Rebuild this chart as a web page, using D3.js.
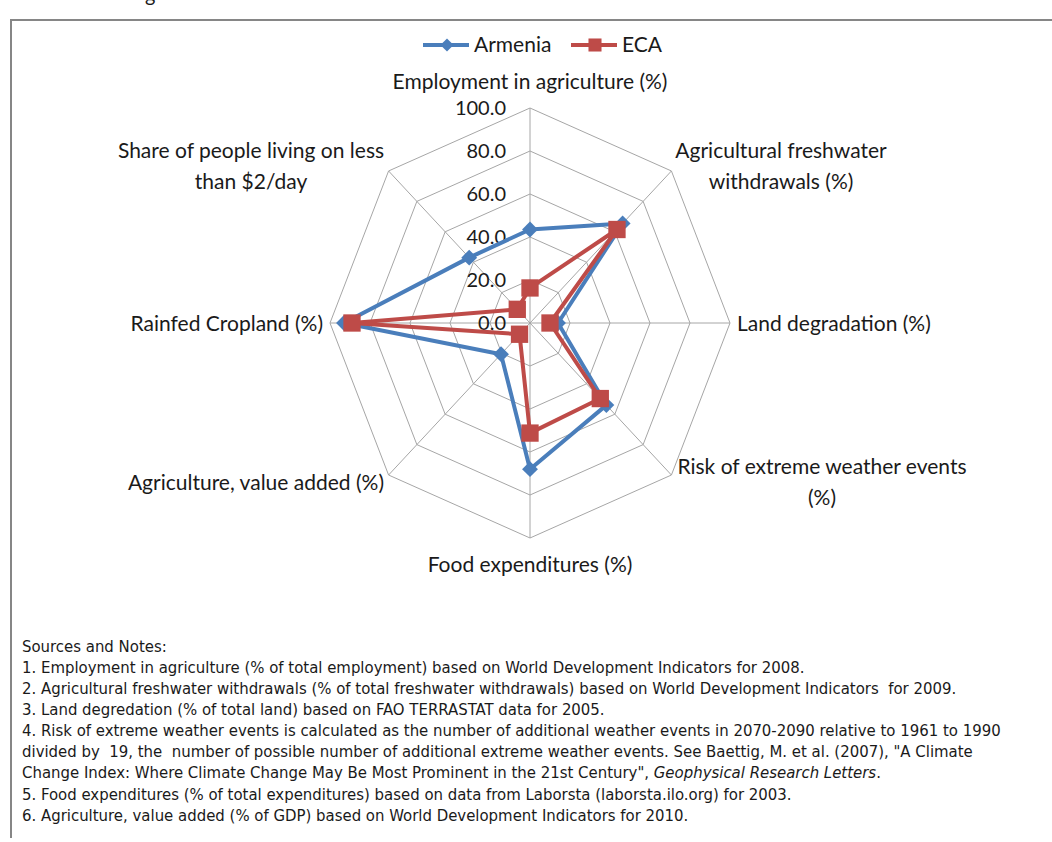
<!DOCTYPE html>
<html>
<head>
<meta charset="utf-8">
<script src="https://cdn.jsdelivr.net/npm/d3@7"></script>
<style>
  body { margin: 0; background: #fff; }
  svg text { font-family: Lato, "Open Sans", sans-serif; fill: #1a1a1a; }
  .notes text { font-family: "DejaVu Sans Condensed", "Liberation Sans Narrow", sans-serif; white-space: pre; }
</style>
</head>
<body>
<div id="chart"></div>
<script>
// categories, clockwise from the top
const axisLabels = [
  ["Employment in agriculture (%)"],
  ["Agricultural freshwater", "withdrawals (%)"],
  ["Land degradation (%)"],
  ["Risk of extreme weather events", "(%)"],
  ["Food expenditures (%)"],
  ["Agriculture, value added (%)"],
  ["Rainfed Cropland (%)"],
  ["Share of people living on less", "than $2/day"]
];
const armenia = [43.5, 65.5, 14, 54, 68, 20.5, 93, 43];
const eca = [16.3, 61.5, 10, 49.7, 51.2, 7.4, 89, 9];
const seriesNames = ["Armenia", "ECA"];
const tickValues = [0, 20, 40, 60, 80, 100];
const notes = [
  "Sources and Notes:",
  "1. Employment in agriculture (% of total employment) based on World Development Indicators for 2008.",
  "2. Agricultural freshwater withdrawals (% of total freshwater withdrawals) based on World Development Indicators  for 2009.",
  "3. Land degredation (% of total land) based on FAO TERRASTAT data for 2005.",
  "4. Risk of extreme weather events is calculated as the number of additional weather events in 2070-2090 relative to 1961 to 1990",
  "divided by  19, the  number of possible number of additional extreme weather events. See Baettig, M. et al. (2007), \"A Climate",
  "Change Index: Where Climate Change May Be Most Prominent in the 21st Century\", |Geophysical Research Letters|.",
  "5. Food expenditures (% of total expenditures) based on data from Laborsta (laborsta.ilo.org) for 2003.",
  "6. Agriculture, value added (% of GDP) based on World Development Indicators for 2010."
];

const width = 1052, height = 842;
const cx = 530, cy = 323;
const colors = ["#4a7ebb", "#be4b48"];

const svg = d3.select("#chart").append("svg")
    .attr("width", width)
    .attr("height", height);

// frame of the chart area (clipped on the right / bottom)
svg.append("path")
    .attr("d", "M11,838 V20 H1052")
    .attr("fill", "none")
    .attr("stroke", "#868686")
    .attr("stroke-width", 2);
svg.append("text").attr("x", 145).attr("y", 2).style("font-size", "20px").text("g");

const n = axisLabels.length;
const angle = d3.scaleLinear().domain([0, n]).range([0, 2 * Math.PI]);
const rx = d3.scaleLinear().domain([0, 100]).range([0, 200]);
const ry = d3.scaleLinear().domain([0, 100]).range([0, 215]);

const px = (i, v) => cx + Math.sin(angle(i)) * rx(v);
const py = (i, v) => cy - Math.cos(angle(i)) * ry(v);

const g = svg.append("g");

// grid rings
const ring = d3.line().curve(d3.curveLinearClosed);
tickValues.slice(1).forEach(t => {
  g.append("path")
      .attr("d", ring(d3.range(n).map(i => [px(i, t), py(i, t)])))
      .attr("fill", "none")
      .attr("stroke", "#a6a6a6")
      .attr("stroke-width", 1);
});
// spokes
g.selectAll(".spoke")
  .data(d3.range(n))
  .enter().append("line")
    .attr("x1", cx).attr("y1", cy)
    .attr("x2", i => px(i, 100)).attr("y2", i => py(i, 100))
    .attr("stroke", "#a6a6a6")
    .attr("stroke-width", 1);

// tick labels along the top axis
g.selectAll(".tick")
  .data(tickValues)
  .enter().append("text")
    .attr("x", cx - 24)
    .attr("y", d => cy - ry(d))
    .attr("dy", "0.35em")
    .attr("text-anchor", "end")
    .style("font-size", "20px")
    .text(d => d3.format(".1f")(d));

// series
const line = d3.line().curve(d3.curveLinearClosed);
const symbols = [d3.symbol(d3.symbolDiamond2, 160), d3.symbol(d3.symbolSquare, 300)];
[armenia, eca].forEach((vals, s) => {
  const pts = vals.map((v, i) => [px(i, v), py(i, v)]);
  g.append("path")
      .attr("d", line(pts))
      .attr("fill", "none")
      .attr("stroke", colors[s])
      .attr("stroke-width", 4)
      .attr("stroke-linejoin", "round");
  g.selectAll(".m" + s)
    .data(pts)
    .enter().append("path")
      .attr("transform", d => "translate(" + d[0] + "," + d[1] + ")")
      .attr("d", symbols[s])
      .attr("fill", colors[s]);
});

// axis category labels
const labelPos = [
  {x: 530, y: 82, a: "middle"},
  {x: 781, y: 151, a: "middle"},
  {x: 737, y: 324, a: "start"},
  {x: 822, y: 467, a: "middle"},
  {x: 530, y: 565, a: "middle"},
  {x: 384, y: 483, a: "end"},
  {x: 323, y: 324, a: "end"},
  {x: 251, y: 151, a: "middle"}
];
axisLabels.forEach((lines, i) => {
  const t = g.append("text")
      .attr("text-anchor", labelPos[i].a)
      .style("font-size", "21px");
  lines.forEach((l, k) => {
    t.append("tspan")
        .attr("x", labelPos[i].x)
        .attr("y", labelPos[i].y + k * 31)
        .attr("dy", "0.35em")
        .text(l);
  });
});

// legend
const legend = svg.append("g");
const legendX = [423, 571];
seriesNames.forEach((name, s) => {
  const lx = legendX[s];
  legend.append("line")
      .attr("x1", lx).attr("x2", lx + 46)
      .attr("y1", 45).attr("y2", 45)
      .attr("stroke", colors[s])
      .attr("stroke-width", 4);
  legend.append("path")
      .attr("transform", "translate(" + (lx + 24) + ",45)")
      .attr("d", s === 0 ? d3.symbol(d3.symbolDiamond2, 110)() : d3.symbol(d3.symbolSquare, 170)())
      .attr("fill", colors[s]);
  legend.append("text")
      .attr("x", lx + 51).attr("y", 45)
      .attr("dy", "0.35em")
      .style("font-size", "21px")
      .text(name);
});

// notes
const notesG = svg.append("g").attr("class", "notes");
notes.forEach((l, k) => {
  const t = notesG.append("text")
      .attr("x", 22)
      .attr("y", 646 + k * 21.1)
      .attr("dy", "0.35em")
      .style("font-size", "16.6px");
  l.split("|").forEach((part, j) => {
    t.append("tspan").style("font-style", j % 2 ? "italic" : "normal").text(part);
  });
});
</script>
</body>
</html>
